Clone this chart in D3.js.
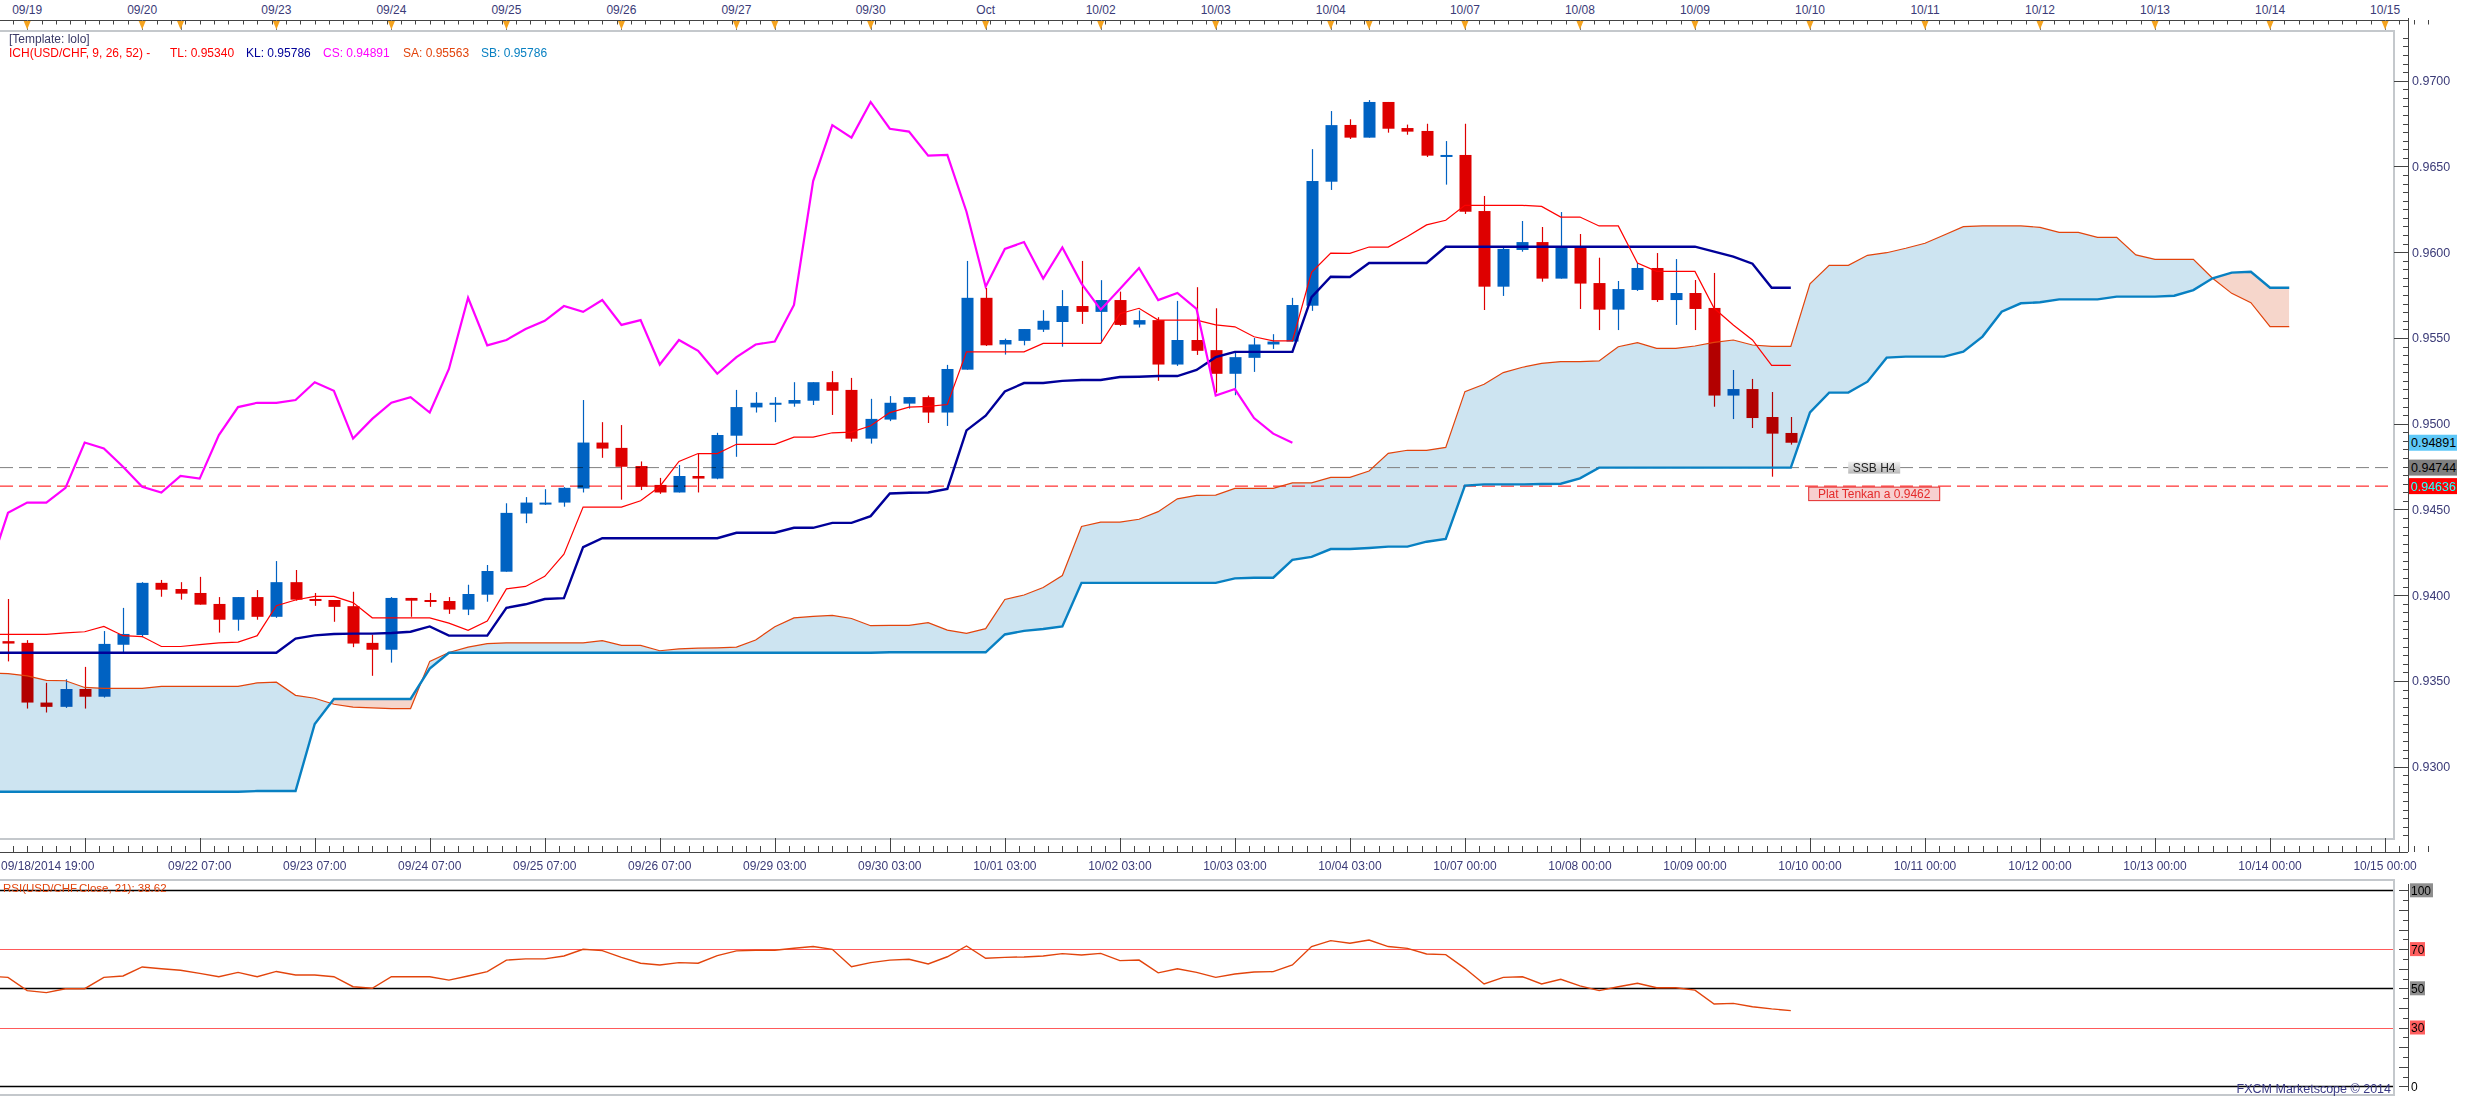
<!DOCTYPE html>
<html>
<head>
<meta charset="utf-8">
<script src="https://cdn.jsdelivr.net/npm/d3@7"></script>
<style>
  body { margin: 0; background: #fff; }
  svg { display: block; }
  text { font-family: "Liberation Sans", Arial, sans-serif; }
</style>
</head>
<body>
<svg id="chart" width="2466" height="1097"></svg>
<script>
// USD/CHF H4 candles, index 0 = 09/18/2014 19:00
const opens = [0.93732,0.93722,0.93374,0.93349,0.93453,0.93408,0.93711,0.93768,0.94072,0.94036,
  0.94013,0.93949,0.93857,0.93989,0.93874,0.94076,0.93978,0.93972,0.93936,0.93722,
  0.93682,0.93984,0.93972,0.93966,0.93916,0.94003,0.94137,0.94476,0.94534,0.94540,
  0.94622,0.94890,0.94859,0.94753,0.94643,0.94599,0.94695,0.94680,0.94930,0.95095,
  0.95117,0.95117,0.95134,0.95242,0.95197,0.94913,0.95024,0.95117,0.95155,0.95065,
  0.95315,0.95734,0.95462,0.95483,0.95548,0.95593,0.95686,0.95652,0.95721,0.95578,
  0.95604,0.95345,0.95488,0.95429,0.95291,0.95384,0.95462,0.95479,0.95688,0.96411,
  0.96742,0.96668,0.96876,0.96724,0.96707,0.96563,0.96567,0.96240,0.95799,0.96013,
  0.96059,0.95846,0.96028,0.95820,0.95665,0.95780,0.95908,0.95721,0.95762,0.95675,
  0.95164,0.95202,0.95039,0.94946];
const highs = [0.93978,0.93738,0.93489,0.93510,0.93582,0.93791,0.93926,0.94076,0.94089,0.94076,
  0.94107,0.93989,0.93989,0.94030,0.94199,0.94147,0.94013,0.93972,0.94020,0.93770,
  0.93989,0.93984,0.94013,0.93989,0.94061,0.94176,0.94536,0.94572,0.94618,0.94630,
  0.95138,0.95009,0.94992,0.94780,0.94684,0.94759,0.94826,0.94947,0.95197,0.95184,
  0.95155,0.95242,0.95242,0.95307,0.95267,0.95145,0.95161,0.95155,0.95164,0.95343,
  0.95949,0.95792,0.95496,0.95552,0.95662,0.95779,0.95949,0.95837,0.95770,0.95660,
  0.95621,0.95716,0.95796,0.95673,0.95423,0.95500,0.95522,0.95734,0.96601,0.96823,
  0.96775,0.96887,0.96876,0.96744,0.96749,0.96648,0.96749,0.96328,0.96028,0.96182,
  0.96147,0.96234,0.96106,0.95968,0.95832,0.95937,0.95995,0.95960,0.95838,0.95879,
  0.95313,0.95261,0.95185,0.95039];
const lows = [0.93614,0.93339,0.93316,0.93343,0.93339,0.93403,0.93666,0.93755,0.93991,0.93974,
  0.93945,0.93782,0.93793,0.93857,0.93868,0.93968,0.93938,0.93845,0.93697,0.93530,
  0.93607,0.93874,0.93932,0.93891,0.93884,0.93962,0.94137,0.94420,0.94526,0.94516,
  0.94599,0.94801,0.94557,0.94613,0.94591,0.94599,0.94599,0.94676,0.94807,0.95065,
  0.95009,0.95099,0.95109,0.95051,0.94895,0.94884,0.95015,0.95088,0.95004,0.94987,
  0.95315,0.95453,0.95403,0.95457,0.95535,0.95449,0.95582,0.95479,0.95570,0.95561,
  0.95250,0.95337,0.95401,0.95181,0.95166,0.95302,0.95436,0.95479,0.95658,0.96363,
  0.96660,0.96668,0.96697,0.96685,0.96555,0.96394,0.96223,0.95663,0.95745,0.96003,
  0.95828,0.95846,0.95669,0.95546,0.95546,0.95774,0.95710,0.95576,0.95546,0.95099,
  0.95027,0.94975,0.94691,0.94878];
const closes = [0.93718,0.93374,0.93349,0.93453,0.93408,0.93716,0.93774,0.94072,0.94032,0.94009,
  0.93945,0.93857,0.93989,0.93874,0.94076,0.93974,0.93968,0.93932,0.93718,0.93682,
  0.93984,0.93968,0.93961,0.93916,0.94007,0.94141,0.94480,0.94540,0.94540,0.94626,
  0.94890,0.94855,0.94749,0.94632,0.94599,0.94695,0.94680,0.94934,0.95097,0.95122,
  0.95122,0.95138,0.95242,0.95192,0.94913,0.95028,0.95122,0.95155,0.95065,0.95319,
  0.95734,0.95457,0.95488,0.95552,0.95600,0.95686,0.95652,0.95721,0.95576,0.95604,
  0.95345,0.95488,0.95425,0.95291,0.95388,0.95462,0.95479,0.95692,0.96415,0.96741,
  0.96668,0.96876,0.96720,0.96703,0.96563,0.96567,0.96236,0.95799,0.96019,0.96059,
  0.95846,0.96028,0.95817,0.95665,0.95785,0.95908,0.95721,0.95762,0.95669,0.95164,
  0.95202,0.95033,0.94942,0.94889];

// indicator lines, first value sits one bar left of candle 0
const lineStart = -1;
const tenkan = [0.93772,
  0.93772,0.93772,0.93772,0.93780,0.93787,0.93818,0.93764,0.93759,0.93701,0.93701,
  0.93712,0.93722,0.93726,0.93764,0.93939,0.93972,0.93993,0.93993,0.93957,0.93868,
  0.93868,0.93868,0.93868,0.93837,0.93795,0.93849,0.94037,0.94051,0.94110,0.94239,
  0.94514,0.94514,0.94514,0.94551,0.94634,0.94780,0.94826,0.94826,0.94880,0.94880,
  0.94880,0.94922,0.94922,0.94947,0.94951,0.94988,0.95065,0.95097,0.95101,0.95112,
  0.95419,0.95419,0.95419,0.95419,0.95468,0.95468,0.95468,0.95468,0.95641,0.95673,
  0.95604,0.95604,0.95604,0.95576,0.95565,0.95507,0.95483,0.95483,0.95882,0.95995,
  0.95993,0.96030,0.96030,0.96091,0.96159,0.96186,0.96273,0.96273,0.96273,0.96273,
  0.96267,0.96205,0.96205,0.96153,0.96153,0.95937,0.95888,0.95888,0.95888,0.95673,
  0.95576,0.95488,0.95340,0.95340];
const kijun = [0.93664,
  0.93664,0.93664,0.93664,0.93664,0.93664,0.93664,0.93664,0.93664,0.93664,0.93664,
  0.93664,0.93664,0.93664,0.93664,0.93664,0.93747,0.93766,0.93774,0.93776,0.93776,
  0.93780,0.93787,0.93818,0.93764,0.93764,0.93764,0.93926,0.93947,0.93978,0.93983,
  0.94280,0.94332,0.94332,0.94332,0.94332,0.94332,0.94332,0.94332,0.94364,0.94364,
  0.94364,0.94393,0.94393,0.94422,0.94422,0.94461,0.94593,0.94597,0.94599,0.94620,
  0.94961,0.95047,0.95188,0.95237,0.95237,0.95250,0.95255,0.95255,0.95272,0.95274,
  0.95278,0.95278,0.95313,0.95388,0.95419,0.95419,0.95419,0.95419,0.95738,0.95857,
  0.95855,0.95937,0.95937,0.95937,0.95937,0.96032,0.96032,0.96032,0.96032,0.96032,
  0.96032,0.96032,0.96032,0.96032,0.96032,0.96032,0.96032,0.96032,0.96032,0.96003,
  0.95974,0.95933,0.95793,0.95793];
// senkou spans, drawn 26 bars ahead (to index 119)
const spanA = [0.93545,
  0.93543,0.93530,0.93503,0.93501,0.93462,0.93457,0.93457,0.93457,0.93468,0.93468,
  0.93468,0.93468,0.93468,0.93489,0.93493,0.93416,0.93399,0.93364,0.93347,0.93343,
  0.93339,0.93339,0.93614,0.93666,0.93697,0.93718,0.93722,0.93722,0.93722,0.93722,
  0.93722,0.93735,0.93707,0.93707,0.93676,0.93687,0.93691,0.93693,0.93697,0.93739,
  0.93816,0.93868,0.93876,0.93882,0.93864,0.93822,0.93824,0.93824,0.93840,0.93796,
  0.93777,0.93805,0.93975,0.94001,0.94045,0.94115,0.94401,0.94426,0.94426,0.94443,
  0.94487,0.94562,0.94582,0.94584,0.94623,0.94623,0.94623,0.94655,0.94655,0.94687,
  0.94687,0.94724,0.94827,0.94845,0.94845,0.94862,0.95187,0.95230,0.95298,0.95329,
  0.95352,0.95362,0.95362,0.95366,0.95449,0.95473,0.95439,0.95439,0.95453,0.95474,
  0.95488,0.95459,0.95451,0.95451,0.95815,0.95923,0.95923,0.95982,0.95997,0.96023,
  0.96052,0.96100,0.96149,0.96153,0.96153,0.96153,0.96145,0.96116,0.96116,0.96087,
  0.96087,0.95984,0.95958,0.95958,0.95958,0.95848,0.95760,0.95706,0.95566,0.95566];
const spanB = [0.92854,
  0.92854,0.92854,0.92854,0.92854,0.92854,0.92854,0.92854,0.92854,0.92854,0.92854,
  0.92854,0.92854,0.92854,0.92858,0.92858,0.92858,0.93249,0.93395,0.93395,0.93395,
  0.93395,0.93395,0.93572,0.93664,0.93664,0.93664,0.93664,0.93664,0.93664,0.93664,
  0.93664,0.93664,0.93664,0.93664,0.93664,0.93664,0.93664,0.93664,0.93664,0.93664,
  0.93664,0.93664,0.93664,0.93664,0.93664,0.93664,0.93667,0.93667,0.93667,0.93667,
  0.93667,0.93667,0.93771,0.93792,0.93803,0.93818,0.94072,0.94072,0.94072,0.94072,
  0.94072,0.94072,0.94072,0.94072,0.94098,0.94102,0.94102,0.94206,0.94223,0.94269,
  0.94269,0.94275,0.94283,0.94283,0.94312,0.94328,0.94639,0.94646,0.94646,0.94646,
  0.94648,0.94650,0.94681,0.94744,0.94744,0.94744,0.94744,0.94744,0.94744,0.94744,
  0.94744,0.94744,0.94744,0.94744,0.95066,0.95181,0.95181,0.95245,0.95385,0.95391,
  0.95391,0.95391,0.95420,0.95508,0.95653,0.95702,0.95708,0.95725,0.95725,0.95725,
  0.95741,0.95741,0.95741,0.95746,0.95779,0.95848,0.95881,0.95886,0.95793,0.95793];
const chikouShift = 26;
const rsi = [56.2,
  55.6,48.8,47.8,49.8,49.8,55.6,56.3,60.9,60.0,59.2,
  57.6,55.9,58.1,55.9,58.6,56.8,56.8,55.9,50.8,50.0,
  55.9,55.9,55.9,54.2,56.3,58.5,64.4,65.0,65.0,66.5,
  69.9,69.2,65.8,62.8,61.9,63.1,62.8,66.7,69.1,69.4,
  69.4,70.4,71.3,69.9,61.0,63.1,64.4,64.8,62.4,66.1,
  71.6,65.3,65.8,66.0,66.5,67.7,67.0,67.8,64.1,64.4,
  57.9,60.0,58.1,55.6,57.3,58.3,58.5,61.9,71.3,74.3,
  73.0,74.6,71.3,70.4,67.5,67.2,60.2,52.2,55.6,55.9,
  52.2,54.6,51.2,48.8,50.8,52.6,50.3,50.3,49.1,42.0,
  42.3,40.6,39.5,38.62];
const rsiLevels = [100, 70, 50, 30, 0];

const ssbLevel = 0.94744;
const flatTenkan = 0.94636;
const priceTicks = d3.range(0.930, 0.9701, 0.005);

const topLabels = ["09/19","09/20","09/23","09/24","09/25","09/26","09/27","09/30","Oct","10/02","10/03",
  "10/04","10/07","10/08","10/09","10/10","10/11","10/12","10/13","10/14","10/15"];
const topLabelIdx = [1,7,14,20,26,32,38,45,51,57,63,69,76,82,88,94,100,106,112,118,124];
const topExtraIdx = [9,40,71];
const bottomLabels = ["09/22 07:00","09/23 07:00","09/24 07:00","09/25 07:00","09/26 07:00",
  "09/29 03:00","09/30 03:00","10/01 03:00","10/02 03:00","10/03 03:00","10/04 03:00",
  "10/07 00:00","10/08 00:00","10/09 00:00","10/10 00:00","10/11 00:00","10/12 00:00",
  "10/13 00:00","10/14 00:00","10/15 00:00"];
const bottomLabelIdx = [10,16,22,28,34,40,46,52,58,64,70,76,82,88,94,100,106,112,118,124];

// layout
const plotT = 31, plotB = 839, plotR = 2394, axisX = 2408, timeY = 852;
const rsiT = 880, rsiB = 1095;
const BULL = '#0062c2', BEAR = '#de0000', AXIS_TXT = '#3b3b78';

const svg = d3.select('#chart');
svg.append('rect').attr('width', 2466).attr('height', 1097).attr('fill', '#fff');

const x = d3.scaleLinear().domain([0, 124]).range([8, 8 + 19.17 * 124]);
const y = d3.scaleLinear().domain([0.925784, 0.972898]).range([plotB, plotT]);
const yr = d3.scaleLinear().domain([0, 100]).range([1086.3, 890.3]);

const defs = svg.append('defs');
defs.append('clipPath').attr('id', 'plotClip').append('rect')
  .attr('x', 0).attr('y', plotT).attr('width', plotR).attr('height', plotB - plotT);

// ---------- top date strip ----------
const dateStrip = svg.append('g');
dateStrip.append('line').attr('x1', 0).attr('x2', axisX).attr('y1', 20.5).attr('y2', 20.5).attr('stroke', '#444');
dateStrip.selectAll('line.minor').data(d3.range(-0.5, 127, 0.75)).join('line')
  .attr('x1', d => Math.round(x(d)) + 0.5).attr('x2', d => Math.round(x(d)) + 0.5)
  .attr('y1', 20).attr('y2', 24.5).attr('stroke', '#444');
const stripMarks = dateStrip.append('g');
stripMarks.selectAll('line').data(topLabelIdx.concat(topExtraIdx)).join('line')
  .attr('x1', d => Math.round(x(d)) + 0.5).attr('x2', d => Math.round(x(d)) + 0.5)
  .attr('y1', 20).attr('y2', 31).attr('stroke', '#777');
stripMarks.selectAll('path').data(topLabelIdx.concat(topExtraIdx)).join('path')
  .attr('d', d => `M${x(d) - 3.5},21L${x(d) + 3.5},21L${x(d)},29.5Z`)
  .attr('fill', '#f5a31e');
dateStrip.selectAll('text').data(topLabels).join('text')
  .attr('x', (d, k) => x(topLabelIdx[k])).attr('y', 13.5)
  .attr('text-anchor', 'middle').attr('font-size', 12).attr('fill', AXIS_TXT).text(d => d);

// ---------- plot area ----------
const plot = svg.append('g').attr('clip-path', 'url(#plotClip)');
const spanPts = spanA.map((a, k) => ({i: k + lineStart, a: a, b: spanB[k]}));
const aboveB = d3.area().x(d => x(d.i)).y0(plotT).y1(d => y(d.b));
const belowB = d3.area().x(d => x(d.i)).y0(plotB).y1(d => y(d.b));
defs.append('clipPath').attr('id', 'cloudUp').append('path').attr('d', aboveB(spanPts));
defs.append('clipPath').attr('id', 'cloudDn').append('path').attr('d', belowB(spanPts));
const cloud = d3.area().x(d => x(d.i)).y0(d => y(d.b)).y1(d => y(d.a));
plot.append('path').attr('d', cloud(spanPts)).attr('fill', '#cde4f1').attr('clip-path', 'url(#cloudUp)');
plot.append('path').attr('d', cloud(spanPts)).attr('fill', '#f6d6cb').attr('clip-path', 'url(#cloudDn)');

// dashed levels
plot.append('line').attr('x1', 0).attr('x2', plotR).attr('y1', y(ssbLevel)).attr('y2', y(ssbLevel))
  .attr('stroke', '#808080').attr('stroke-dasharray', '13,6');
plot.append('line').attr('x1', 0).attr('x2', plotR).attr('y1', y(flatTenkan)).attr('y2', y(flatTenkan))
  .attr('stroke', '#ff0000').attr('stroke-dasharray', '13,6');

// candles (multiply so bodies darken inside the cloud)
const candles = closes.map((c, i) => ({i: i, o: opens[i], h: highs[i], l: lows[i], c: c}));
const cg = plot.append('g').style('mix-blend-mode', 'multiply');
cg.selectAll('line').data(candles).join('line')
  .attr('x1', d => Math.round(x(d.i)) + 0.5).attr('x2', d => Math.round(x(d.i)) + 0.5)
  .attr('y1', d => y(d.h)).attr('y2', d => y(d.l))
  .attr('stroke', d => d.c >= d.o ? BULL : BEAR).attr('stroke-width', 1.2);
cg.selectAll('rect').data(candles).join('rect')
  .attr('x', d => Math.round(x(d.i)) - 5.5).attr('width', 12)
  .attr('y', d => y(Math.max(d.o, d.c)))
  .attr('height', d => Math.max(2, Math.abs(y(d.o) - y(d.c))))
  .attr('fill', d => d.c >= d.o ? BULL : BEAR);

// ichimoku lines
const asPts = arr => arr.map((v, k) => ({i: k + lineStart, v: v}));
const ln = d3.line().x(d => x(d.i)).y(d => y(d.v));
plot.append('path').attr('d', ln(asPts(spanA))).attr('fill', 'none').attr('stroke', '#e2440c').attr('stroke-width', 1.2);
plot.append('path').attr('d', ln(asPts(spanB))).attr('fill', 'none').attr('stroke', '#0880c2').attr('stroke-width', 2.4);
plot.append('path').attr('d', ln(asPts(kijun))).attr('fill', 'none').attr('stroke', '#000099').attr('stroke-width', 2.4);
plot.append('path').attr('d', ln(asPts(tenkan))).attr('fill', 'none').attr('stroke', '#ff0000').attr('stroke-width', 1.2);
const chikou = d3.range(-1, closes.length - chikouShift).map(i => ({i: i, v: closes[i + chikouShift]}));
plot.append('path').attr('d', ln(chikou)).attr('fill', 'none').attr('stroke', '#ff00ff').attr('stroke-width', 2.2);

// annotations
const grad = defs.append('linearGradient').attr('id', 'gBox').attr('x1', 0).attr('y1', 0).attr('x2', 0).attr('y2', 1);
grad.append('stop').attr('offset', 0).attr('stop-color', '#f2f2f2');
grad.append('stop').attr('offset', 1).attr('stop-color', '#b8b8b8');
const ssbNote = svg.append('g').attr('transform', `translate(${x(97.35)},${y(ssbLevel)})`);
ssbNote.append('rect').attr('x', -26).attr('y', -6).attr('width', 52).attr('height', 12).attr('fill', 'url(#gBox)');
ssbNote.append('text').attr('y', 4.5).attr('text-anchor', 'middle').attr('font-size', 12).attr('fill', '#222').text('SSB H4');
const ftNote = svg.append('g').attr('transform', `translate(${x(97.35)},${y(flatTenkan) + 4})`);
ftNote.append('rect').attr('x', -65.5).attr('y', -3).attr('width', 131).attr('height', 13.5)
  .attr('fill', '#f7cfcf').attr('stroke', '#e42a2a');
ftNote.append('text').attr('y', 8).attr('text-anchor', 'middle').attr('font-size', 12).attr('fill', '#e42a2a')
  .text('Plat Tenkan a 0.9462');

// frame
svg.append('line').attr('x1', 0).attr('x2', plotR + 1).attr('y1', plotT).attr('y2', plotT).attr('stroke', '#c4c8cc').attr('stroke-width', 2);
svg.append('line').attr('x1', 0).attr('x2', plotR + 1).attr('y1', plotB).attr('y2', plotB).attr('stroke', '#c4c8cc').attr('stroke-width', 2);
svg.append('line').attr('x1', plotR).attr('x2', plotR).attr('y1', plotT).attr('y2', plotB).attr('stroke', '#c4c8cc').attr('stroke-width', 2);

// legend
svg.append('text').attr('x', 9).attr('y', 43).attr('font-size', 12).attr('fill', '#3a3a66').text('[Template: lolo]');
const legend = svg.append('text').attr('y', 56.5).attr('font-size', 12);
const legendItems = [
  {t: 'ICH(USD/CHF, 9, 26, 52) -', c: '#ff0000', x: 9},
  {t: 'TL: 0.95340', c: '#ff0000', x: 170},
  {t: 'KL: 0.95786', c: '#000099', x: 246},
  {t: 'CS: 0.94891', c: '#ff00ff', x: 323},
  {t: 'SA: 0.95563', c: '#e2440c', x: 403},
  {t: 'SB: 0.95786', c: '#0880c2', x: 481}
];
legend.selectAll('tspan').data(legendItems).join('tspan')
  .attr('x', d => d.x).attr('fill', d => d.c).text(d => d.t);

// ---------- price axis ----------
const pa = svg.append('g');
pa.append('line').attr('x1', axisX + 0.5).attr('x2', axisX + 0.5).attr('y1', 18).attr('y2', timeY).attr('stroke', '#444');
pa.append('g').selectAll('line').data(d3.range(0.9260, 0.9726, 0.0005)).join('line')
  .attr('x1', axisX - 5).attr('x2', axisX).attr('y1', d => Math.round(y(d)) + 0.5).attr('y2', d => Math.round(y(d)) + 0.5)
  .attr('stroke', '#444');
pa.append('g').selectAll('line').data(priceTicks).join('line')
  .attr('x1', plotR).attr('x2', axisX).attr('y1', d => Math.round(y(d)) + 0.5).attr('y2', d => Math.round(y(d)) + 0.5)
  .attr('stroke', '#444');
pa.selectAll('text').data(priceTicks).join('text')
  .attr('x', axisX + 4).attr('y', d => y(d) + 4.5).attr('font-size', 12.5).attr('fill', AXIS_TXT)
  .text(d => d.toFixed(4));

const valueTags = [
  {v: closes[closes.length - 1], bg: '#5ec8f8', fg: '#000', t: '0.94891'},
  {v: ssbLevel, bg: '#808080', fg: '#000', t: '0.94744'},
  {v: flatTenkan, bg: '#ff0000', fg: '#00ffff', t: '0.94636'}
];
const tags = svg.append('g').selectAll('g').data(valueTags).join('g')
  .attr('transform', d => `translate(${axisX + 1},${y(d.v)})`);
tags.append('rect').attr('x', 0).attr('y', -8).attr('width', 48).attr('height', 16).attr('fill', d => d.bg);
tags.append('text').attr('x', 2).attr('y', 4.5).attr('font-size', 12.5).attr('fill', d => d.fg).text(d => d.t);

// ---------- time axis ----------
const ta = svg.append('g');
ta.append('line').attr('x1', 0).attr('x2', axisX).attr('y1', timeY + 0.5).attr('y2', timeY + 0.5).attr('stroke', '#444');
ta.append('g').selectAll('line').data(d3.range(-0.5, 127, 0.75)).join('line')
  .attr('x1', d => Math.round(x(d)) + 0.5).attr('x2', d => Math.round(x(d)) + 0.5)
  .attr('y1', timeY - 6).attr('y2', timeY).attr('stroke', '#444');
ta.append('g').selectAll('line').data([4].concat(bottomLabelIdx)).join('line')
  .attr('x1', d => Math.round(x(d)) + 0.5).attr('x2', d => Math.round(x(d)) + 0.5)
  .attr('y1', plotB - 1).attr('y2', timeY).attr('stroke', '#444');
ta.append('g').selectAll('text').data(bottomLabels).join('text')
  .attr('x', (d, k) => x(bottomLabelIdx[k])).attr('y', 870)
  .attr('text-anchor', 'middle').attr('font-size', 12).attr('fill', AXIS_TXT).text(d => d);
ta.append('text').attr('x', 1).attr('y', 870).attr('font-size', 12).attr('fill', AXIS_TXT).text('09/18/2014 19:00');

// ---------- RSI panel ----------
const rp = svg.append('g');
rp.append('rect').attr('x', -2).attr('y', rsiT).attr('width', plotR + 2).attr('height', rsiB - rsiT)
  .attr('fill', 'none').attr('stroke', '#c4c8cc').attr('stroke-width', 2);
rp.append('g').selectAll('line').data(rsiLevels).join('line')
  .attr('x1', 0).attr('x2', plotR - 1).attr('y1', d => Math.round(yr(d)) + 0.5).attr('y2', d => Math.round(yr(d)) + 0.5)
  .attr('stroke', d => (d === 70 || d === 30) ? '#ff5a5a' : '#000').attr('stroke-width', d => (d === 70 || d === 30) ? 1.2 : 1.6);
const rsiPts = rsi.map((v, k) => ({i: k + lineStart, v: v}));
rp.append('path').attr('d', d3.line().x(d => x(d.i)).y(d => yr(d.v))(rsiPts))
  .attr('fill', 'none').attr('stroke', '#e2440c').attr('stroke-width', 1.4);
rp.append('text').attr('x', 3).attr('y', 892).attr('font-size', 11.5).attr('fill', '#e2440c')
  .text('RSI(USD/CHF.Close, 21): ' + rsi[rsi.length - 1].toFixed(2));
rp.append('line').attr('x1', axisX + 0.5).attr('x2', axisX + 0.5).attr('y1', rsiT + 4).attr('y2', rsiB - 4).attr('stroke', '#444');
rp.append('g').selectAll('line').data(d3.range(0, 101, 5)).join('line')
  .attr('x1', d => d % 10 === 0 ? axisX - 9 : axisX - 5).attr('x2', axisX)
  .attr('y1', d => Math.round(yr(d)) + 0.5).attr('y2', d => Math.round(yr(d)) + 0.5).attr('stroke', '#444');
const rLab = rp.append('g').selectAll('g').data(rsiLevels).join('g').attr('transform', d => `translate(${axisX + 2},${yr(d)})`);
rLab.append('rect').attr('x', 0).attr('y', -7).attr('height', 14)
  .attr('width', d => d === 100 ? 23 : 15)
  .attr('fill', d => d === 0 ? 'none' : (d === 70 || d === 30) ? '#ff5f5f' : '#8e8e8e');
rLab.append('text').attr('x', 1).attr('y', 4.5).attr('font-size', 12).attr('fill', '#000').text(d => d);
rp.append('text').attr('x', plotR - 3).attr('y', 1093).attr('text-anchor', 'end').attr('font-size', 12.5)
  .attr('fill', '#3b3b86').text('FXCM Marketscope \u00a9 2014');
</script>
</body>
</html>
